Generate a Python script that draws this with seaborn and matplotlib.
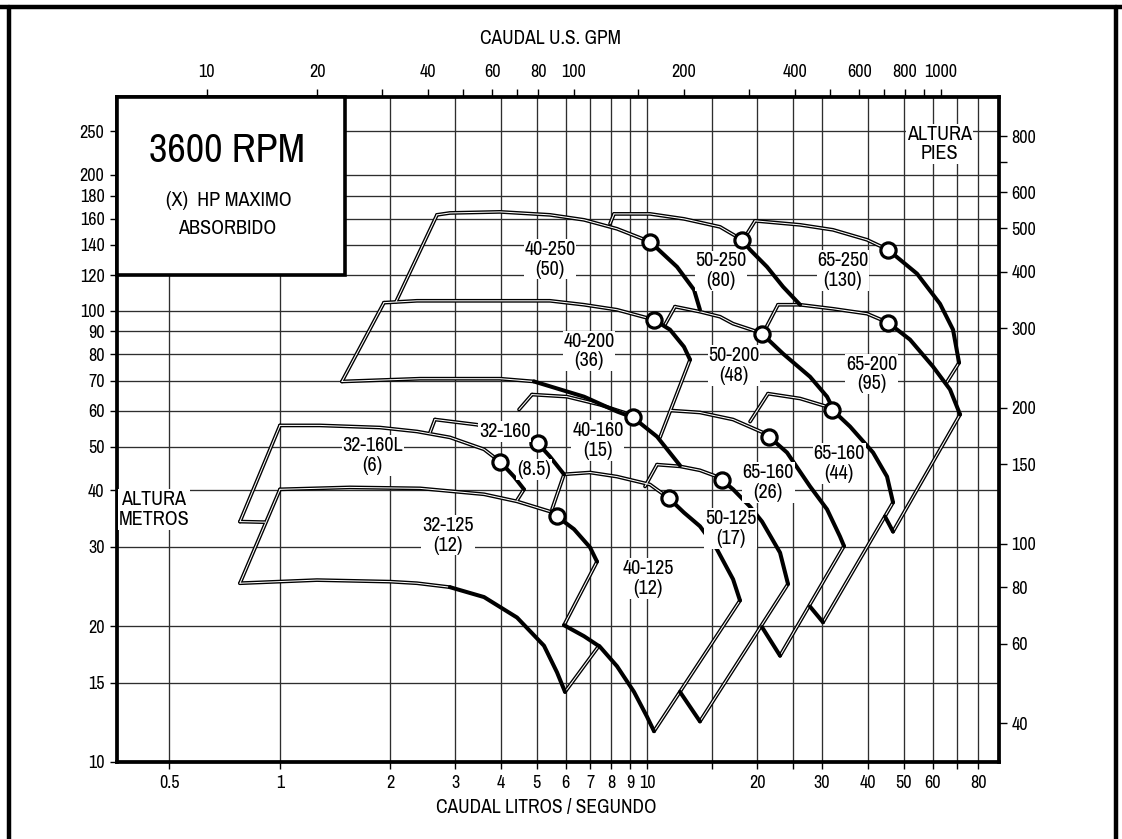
import matplotlib
matplotlib.use("Agg")
import matplotlib.pyplot as plt
import pandas as pd
import seaborn as sns
from matplotlib import font_manager as fm
from matplotlib.patches import Rectangle
from matplotlib.lines import Line2D
from matplotlib.ticker import FixedLocator, FixedFormatter, NullLocator

# ---------------- axis ticks ----------------
flow_ticks = [0.5, 1, 2, 3, 4, 5, 6, 7, 8, 9, 10, 15, 20, 25, 30, 40, 50, 60, 70, 80]
flow_labels = ['0.5', '1', '2', '3', '4', '5', '6', '7', '8', '9', '10', '', '20', '', '30',
               '40', '50', '60', '', '80']
head_ticks = [10, 15, 20, 30, 40, 50, 60, 70, 80, 90, 100, 120, 140, 160, 180, 200, 250]
head_labels = [str(v) for v in head_ticks]
gpm_ticks = [10, 20, 30, 40, 50, 60, 70, 80, 100, 150, 200, 300, 400, 500, 600, 700, 800, 900, 1000]
gpm_labels = ['10', '20', '', '40', '', '60', '', '80', '100', '', '200', '', '400', '',
              '600', '', '800', '', '1000']
ft_ticks = [40, 60, 80, 100, 150, 200, 300, 400, 500, 600, 700, 800]
ft_labels = ['40', '60', '80', '100', '150', '200', '300', '400', '500', '600', '', '800']

LPS_TO_GPM = 15.85
M_TO_FT = 3.281

# ---------------- pump coverage data (flow L/s, head m) ----------------
p32_160L_max = [(1.0, 55.7), (1.285, 55.7), (1.873, 55.1), (2.362, 54.0), (2.905, 52.4),
                (3.597, 49.3), (3.976, 46.3), (4.341, 42.9), (4.622, 40.2)]
p32_160L_mark = (3.976, 46.3)
p32_160L_left = [(1.0, 55.7), (0.778, 34.1)]
p32_160L_right = [(4.622, 40.2), (4.424, 38.0)]
p32_160L_min = [(0.778, 34.1), (0.910, 34.0)]

p32_125_max = [(1.0, 40.2), (1.551, 40.6), (2.407, 40.4), (3.597, 39.2), (4.424, 37.8),
               (5.441, 35.9), (5.686, 35.0), (6.326, 32.8), (6.994, 29.9), (7.308, 27.8)]
p32_125_mark = (5.686, 35.0)
p32_125_left = [(1.0, 40.2), (0.778, 24.9)]
p32_125_right = [(7.308, 27.8), (5.941, 20.1)]
p32_125_min = [(0.778, 24.9), (1.261, 25.3), (1.994, 25.1), (2.362, 24.9), (2.905, 24.4)]
p32_125_drop = [(2.905, 24.4), (3.597, 23.2), (4.424, 20.9), (5.240, 18.1), (5.686, 15.8),
                (5.979, 14.3)]
p32_125_end = [(5.979, 14.3), (7.400, 18.1)]

p32_160_max = [(2.644, 57.4), (3.442, 55.9), (4.508, 53.2), (5.047, 50.8), (5.441, 47.5),
               (5.941, 43.4)]
p32_160_mark = (5.047, 50.8)
p32_160_left = [(2.563, 53.7), (2.644, 57.4)]
p32_160_right = [(5.941, 43.4), (5.510, 36.3)]

p40_125_max = [(5.941, 43.4), (6.994, 43.8), (8.285, 42.9), (10.19, 41.2), (11.48, 38.4),
               (12.61, 35.7), (13.94, 33.3), (15.51, 29.6), (17.16, 25.4), (17.92, 22.8)]
p40_125_mark = (11.48, 38.4)
p40_125_right = [(17.92, 22.8), (10.45, 11.7)]
p40_125_drop = [(5.941, 20.1), (6.735, 19.0), (7.446, 18.0), (8.285, 16.3), (9.218, 14.3),
                (10.0, 12.6), (10.45, 11.7)]

p50_125_max = [(10.65, 45.6), (12.30, 45.2), (13.94, 44.3), (15.51, 42.9), (16.01, 42.1),
               (17.16, 40.2), (19.09, 36.8), (20.58, 34.1), (23.04, 29.1), (24.22, 24.8)]
p50_125_mark = (16.01, 42.1)
p50_125_left = [(10.65, 45.6), (9.876, 40.8)]
p50_125_right = [(24.22, 24.8), (13.94, 12.3)]
p50_125_drop = [(12.30, 14.3), (13.94, 12.3)]

p40_160_max = [(4.861, 65.2), (6.053, 64.5), (7.446, 61.9), (8.656, 59.5), (9.160, 58.0),
               (10.65, 52.6), (12.30, 45.4)]
p40_160_mark = (9.160, 58.0)
p40_160_left = [(4.861, 65.2), (4.480, 60.4)]

p40_200_max = [(1.920, 104.2), (2.362, 105.2), (5.441, 105.2), (6.735, 103.1), (8.285, 100.5),
               (10.45, 95.5), (11.55, 90.8), (12.61, 83.2), (13.10, 77.9)]
p40_200_mark = (10.45, 95.5)
p40_200_left = [(1.920, 104.2), (1.475, 69.7)]
p40_200_right = [(13.10, 77.9), (10.85, 52.4)]
p40_200_min = [(1.475, 69.7), (2.407, 70.7), (3.976, 70.7), (4.922, 69.7)]
p40_200_drop = [(4.922, 69.7), (6.735, 64.5), (8.285, 59.8), (9.160, 58.0)]

p40_250_max = [(2.678, 163.1), (2.905, 164.7), (3.976, 165.6), (5.441, 163.1), (6.735, 159.0),
               (8.285, 151.9), (10.19, 142.2), (12.07, 125.1), (13.43, 111.3), (13.94, 100.5)]
p40_250_mark = (10.19, 142.2)
p40_250_left = [(2.678, 163.1), (2.071, 104.7)]

p50_250_max = [(8.131, 163.9), (10.19, 163.9), (12.61, 159.8), (15.81, 153.4), (17.59, 145.8),
               (18.15, 143.6), (19.09, 136.5), (21.23, 125.1), (23.48, 113.0), (26.12, 103.1)]
p50_250_mark = (18.15, 143.6)
p50_250_left = [(8.131, 163.9), (7.929, 155.8)]

p65_250_max = [(19.70, 158.2), (26.12, 155.0), (32.12, 151.1), (39.77, 143.6), (45.37, 136.5),
               (54.41, 120.8), (62.85, 103.6), (68.20, 90.8), (70.83, 76.7)]
p65_250_mark = (45.37, 136.5)
p65_250_left = [(19.70, 158.2), (18.73, 148.1)]
p65_250_right = [(70.83, 76.7), (65.27, 69.0)]

p50_200_max = [(11.92, 102.1), (13.94, 99.5), (15.81, 97.0), (17.16, 93.6), (19.94, 89.9),
               (20.58, 88.9), (23.48, 80.3), (27.81, 71.4), (30.94, 64.5), (32.12, 60.7)]
p50_200_mark = (20.58, 88.9)
p50_200_left = [(11.92, 102.1), (11.19, 93.1)]

p65_200_max = [(22.75, 103.1), (26.12, 103.1), (32.12, 101.0), (39.77, 98.5), (45.37, 94.1),
               (52.07, 86.3), (60.15, 75.2), (66.93, 66.9), (71.28, 58.9)]
p65_200_mark = (45.37, 94.1)
p65_200_left = [(22.75, 103.1), (20.97, 90.8)]
p65_200_right = [(71.28, 58.9), (46.81, 32.4)]
p65_200_drop = [(44.51, 35.0), (46.81, 32.4)]

p65_160b_max = [(21.37, 65.5), (26.12, 63.9), (30.94, 61.3), (31.92, 60.4), (35.73, 55.4),
                (41.30, 48.5), (45.08, 42.9), (46.81, 37.6)]
p65_160b_mark = (31.92, 60.4)
p65_160b_left = [(21.37, 65.5), (19.09, 56.8)]
p65_160b_right = [(46.81, 37.6), (30.17, 20.4)]
p65_160b_drop = [(27.81, 22.1), (30.17, 20.4)]

p65_160a_max = [(11.62, 60.1), (13.94, 59.5), (17.16, 57.4), (20.71, 53.7), (21.50, 52.6),
                (24.07, 48.5), (27.81, 40.8), (30.94, 36.3), (33.56, 31.6), (34.41, 30.1)]
p65_160a_mark = (21.50, 52.6)
p65_160a_right = [(34.41, 30.1), (23.04, 17.2)]
p65_160a_drop = [(20.58, 19.9), (23.04, 17.2)]

pump_names = ['40-250\n(50)', '50-250\n(80)', '65-250\n(130)', '40-200\n(36)', '50-200\n(48)',
              '65-200\n(95)', '40-160\n(15)', '32-160L\n(6)', '32-125\n(12)', '40-125\n(12)',
              '50-125\n(17)', '65-160\n(26)', '65-160\n(44)', '32-160', '(8.5)']
name_pos = [(5.44, 130.0), (15.91, 122.6), (34.2, 122.9), (6.95, 81.4), (17.26, 75.6),
            (41.0, 72.4), (7.35, 51.6), (1.79, 47.8), (2.87, 31.8), (10.06, 25.5),
            (16.9, 32.9), (21.4, 41.6), (33.4, 45.9), (4.10, 54.0), (4.92, 44.5)]

max_curves = [
    (p32_160L_max, p32_160L_mark), (p32_125_max, p32_125_mark), (p32_160_max, p32_160_mark),
    (p40_125_max, p40_125_mark), (p50_125_max, p50_125_mark), (p40_160_max, p40_160_mark),
    (p40_200_max, p40_200_mark), (p40_250_max, p40_250_mark), (p50_250_max, p50_250_mark),
    (p65_250_max, p65_250_mark), (p50_200_max, p50_200_mark), (p65_200_max, p65_200_mark),
    (p65_160b_max, p65_160b_mark), (p65_160a_max, p65_160a_mark),
]
double_segs = [
    p32_160L_left, p32_160L_right, p32_160L_min, p32_125_left, p32_125_right, p32_125_min,
    p32_125_end, p32_160_left, p32_160_right, p40_125_right, p50_125_left, p50_125_right,
    p40_160_left, p40_200_left, p40_200_right, p40_200_min, p40_250_left, p50_250_left,
    p65_250_left, p65_250_right, p50_200_left, p65_200_left, p65_200_right, p65_160b_left,
    p65_160b_right, p65_160a_right,
]
solid_segs = [
    p32_125_drop, p40_125_drop, p50_125_drop, p40_200_drop, p65_200_drop, p65_160b_drop,
    p65_160a_drop,
]

# ---------------- fonts ----------------
sns.set_theme(style="white", rc={
    "axes.edgecolor": "black", "text.color": "black", "xtick.color": "black",
    "ytick.color": "black", "axes.labelcolor": "black",
})

narrow = None
narrow_stretch = None
for f in fm.fontManager.ttflist:
    nm = f.name
    if f.style != 'normal' or f.weight not in (400, 'normal', 'regular', 'book'):
        continue
    if 'Narrow' in nm or 'Condensed' in nm:
        narrow = nm
        break
if narrow is None:
    for f in fm.fontManager.ttflist:
        if f.style == 'normal' and f.weight in (400, 'normal', 'regular') and \
                f.stretch in ('condensed', 'semi-condensed', 'extra-condensed'):
            narrow, narrow_stretch = f.name, f.stretch
            break

if narrow is not None:
    plt.rcParams['font.family'] = [narrow, 'Liberation Sans', 'DejaVu Sans']
    if narrow_stretch:
        plt.rcParams['font.stretch'] = narrow_stretch
    FS_BIG, FS_LAB, FS_TICK, FS_AX = 29, 14.5, 13, 14
else:
    plt.rcParams['font.family'] = ['Liberation Sans', 'DejaVu Sans']
    FS_BIG, FS_LAB, FS_TICK, FS_AX = 26, 13, 12, 12.5

# ---------------- figure ----------------
W, H = 1122, 839
fig = plt.figure(figsize=(W / 100, H / 100), dpi=100)
L, R, T, B = 117, 999, 97, 762
ax = fig.add_axes([L / W, 1 - B / H, (R - L) / W, (B - T) / H])
ax.set_xscale('log')
ax.set_yscale('log')
ax.set_xlim(0.3597, 91.0)
ax.set_ylim(10.0, 297.6)

ax.xaxis.set_major_locator(FixedLocator(flow_ticks))
ax.xaxis.set_major_formatter(FixedFormatter(flow_labels))
ax.xaxis.set_minor_locator(NullLocator())
ax.yaxis.set_major_locator(FixedLocator(head_ticks))
ax.yaxis.set_major_formatter(FixedFormatter(head_labels))
ax.yaxis.set_minor_locator(NullLocator())
ax.tick_params(axis='x', bottom=True, direction='out', length=5, width=1.0,
               labelsize=FS_TICK, pad=4)
ax.tick_params(axis='y', left=True, direction='out', length=5, width=1.0,
               labelsize=FS_TICK, pad=4)
ax.grid(True, which='major', color='#2e2e2e', lw=0.95)
ax.set_axisbelow(True)
for s in ax.spines.values():
    s.set_linewidth(2.7)
    s.set_color('black')

# top axis: US GPM
axt = ax.twiny()
axt.set_xscale('log')
axt.set_xlim(0.3597 * LPS_TO_GPM, 91.0 * LPS_TO_GPM)
axt.xaxis.set_major_locator(FixedLocator(gpm_ticks))
axt.xaxis.set_major_formatter(FixedFormatter(gpm_labels))
axt.xaxis.set_minor_locator(NullLocator())
axt.tick_params(axis='x', top=True, bottom=False, direction='out', length=6, width=1.0,
                labelsize=FS_TICK, pad=6)
axt.grid(False)
for s in axt.spines.values():
    s.set_visible(False)

# right axis: feet
axr = ax.twinx()
axr.set_yscale('log')
axr.set_ylim(10.0 * M_TO_FT, 297.6 * M_TO_FT)
axr.yaxis.set_major_locator(FixedLocator(ft_ticks))
axr.yaxis.set_major_formatter(FixedFormatter(ft_labels))
axr.yaxis.set_minor_locator(NullLocator())
axr.tick_params(axis='y', right=True, left=False, direction='out', length=6, width=1.0,
                labelsize=FS_TICK, pad=3)
axr.grid(False)
for s in axr.spines.values():
    s.set_visible(False)


def seg_df(seg):
    return pd.DataFrame(seg, columns=['q', 'h'])


def draw_double(seg):
    df = seg_df(seg)
    sns.lineplot(data=df, x='q', y='h', sort=False, estimator=None, color='black',
                 lw=2.7, ax=ax, zorder=3, legend=False)
    sns.lineplot(data=df, x='q', y='h', sort=False, estimator=None, color='white',
                 lw=0.75, ax=ax, zorder=3.2, legend=False)


def draw_solid(seg):
    df = seg_df(seg)
    sns.lineplot(data=df, x='q', y='h', sort=False, estimator=None, color='black',
                 lw=2.9, ax=ax, zorder=4, legend=False, solid_capstyle='round')


for seg in double_segs:
    draw_double(seg)
for seg in solid_segs:
    draw_solid(seg)

marks = []
for curve, mark in max_curves:
    before = [p for p in curve if p[0] <= mark[0]]
    after = [p for p in curve if p[0] >= mark[0]]
    draw_double(before)
    draw_solid(after)
    marks.append(mark)

mk = pd.DataFrame(marks, columns=['q', 'h'])
sns.scatterplot(data=mk, x='q', y='h', s=120, facecolor='white', edgecolor='black',
                linewidth=2.3, ax=ax, zorder=6, legend=False)
ax.set_xlabel('')
ax.set_ylabel('')

for name, (qx, hy) in zip(pump_names, name_pos):
    ax.text(qx, hy, name, ha='center', va='center', fontsize=FS_LAB, linespacing=1.05,
            zorder=7, bbox=dict(facecolor='white', edgecolor='none', pad=0.6))

ax.text(0.4536, 36.3, 'ALTURA\nMETROS', ha='center', va='center', fontsize=FS_LAB,
        linespacing=1.05, zorder=7, bbox=dict(facecolor='white', edgecolor='none', pad=0.6))
ax.text(62.66, 234.2, 'ALTURA\nPIES', ha='center', va='center', fontsize=FS_LAB,
        linespacing=1.05, zorder=7, bbox=dict(facecolor='white', edgecolor='none', pad=0.6))

# title box
by0 = (B - 275) / (B - T)
ax.add_patch(Rectangle((0.0, by0), (345 - L) / (R - L), 1 - by0, transform=ax.transAxes,
                       facecolor='white', edgecolor='black', lw=2.6, zorder=8,
                       clip_on=False))
ax.text((227 - L) / (R - L), (B - 151) / (B - T), '3600 RPM', transform=ax.transAxes,
        ha='center', va='center', fontsize=FS_BIG, zorder=9)
ax.text((229 - L) / (R - L), (B - 201) / (B - T), '(X)  HP MAXIMO', transform=ax.transAxes,
        ha='center', va='center', fontsize=FS_LAB, zorder=9)
ax.text((227 - L) / (R - L), (B - 229) / (B - T), 'ABSORBIDO', transform=ax.transAxes,
        ha='center', va='center', fontsize=FS_LAB, zorder=9)

fig.text(550 / W, 1 - 38 / H, 'CAUDAL U.S. GPM', ha='center', va='center', fontsize=FS_AX)
fig.text(546 / W, 1 - 808 / H, 'CAUDAL LITROS / SEGUNDO', ha='center', va='center',
         fontsize=FS_AX)

# outer frame of the sheet
for xs, ys in [((0, 1), (1 - 6.5 / H, 1 - 6.5 / H)),
               ((9 / W, 9 / W), (0, 1 - 6.5 / H)),
               ((1116 / W, 1116 / W), (0, 1 - 6.5 / H))]:
    fig.add_artist(Line2D(xs, ys, color='black', lw=3.2, transform=fig.transFigure))

fig.savefig('out.png', dpi=100, facecolor='white')
